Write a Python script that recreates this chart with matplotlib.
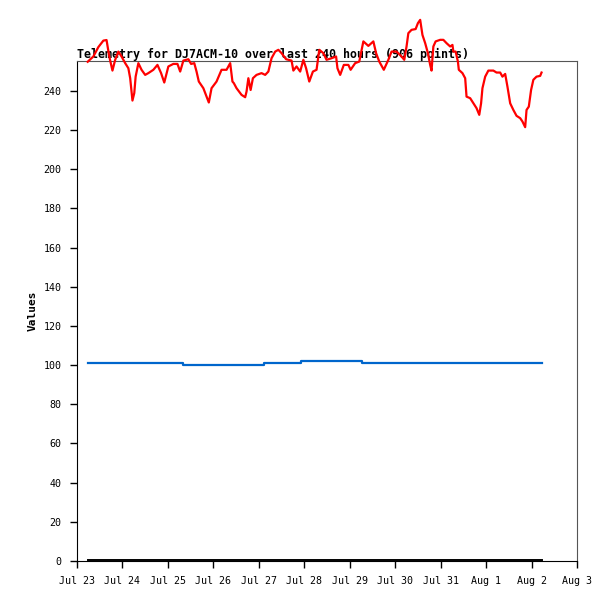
import matplotlib
matplotlib.use("Agg")
import matplotlib.pyplot as plt

# x values are days after Jul 23 00:00
tick_labels = ["Jul 23", "Jul 24", "Jul 25", "Jul 26", "Jul 27", "Jul 28",
               "Jul 29", "Jul 30", "Jul 31", "Aug 1", "Aug 2", "Aug 3"]

red_days = [0.235, 0.36, 0.47, 0.58, 0.65, 0.71, 0.78, 0.84, 0.91, 0.98,
            1.06, 1.13, 1.17, 1.22, 1.26, 1.29, 1.35, 1.42, 1.50, 1.57,
            1.68, 1.77, 1.85, 1.92, 2.01, 2.12, 2.21, 2.27, 2.34, 2.45,
            2.51, 2.58, 2.63, 2.68, 2.78, 2.85, 2.90, 2.96, 3.07, 3.18,
            3.29, 3.37, 3.42, 3.45, 3.51, 3.62, 3.70, 3.73, 3.77, 3.82,
            3.87, 3.95, 4.06, 4.14, 4.21, 4.28, 4.36, 4.43, 4.50, 4.60,
            4.72, 4.76, 4.83, 4.91, 4.98, 5.04, 5.11, 5.19, 5.27, 5.33,
            5.42, 5.49, 5.60, 5.70, 5.73, 5.79, 5.87, 5.97, 6.02, 6.12,
            6.21, 6.30, 6.41, 6.52, 6.58, 6.65, 6.75, 6.85, 6.92, 7.03,
            7.14, 7.20, 7.25, 7.29, 7.36, 7.45, 7.50, 7.55, 7.60, 7.66,
            7.72, 7.77, 7.80, 7.84, 7.89, 7.99, 8.06, 8.13, 8.21, 8.26,
            8.28, 8.33, 8.38, 8.40, 8.48, 8.54, 8.57, 8.65, 8.72, 8.79,
            8.85, 8.89, 8.92, 8.98, 9.05, 9.16, 9.23, 9.31, 9.36, 9.42,
            9.47, 9.53, 9.60, 9.67, 9.75, 9.80, 9.86, 9.89, 9.94, 9.99,
            10.04, 10.11, 10.19, 10.22]
red_vals = [254.9, 257.6, 262.4, 265.7, 266.0, 257.6, 250.4, 255.9, 260.1, 257.6,
            254.2, 251.6, 246.5, 235.1, 238.9, 247.3, 254.2, 250.8, 248.2, 249.1,
            250.8, 253.3, 249.1, 244.3, 252.5, 253.8, 253.8, 249.9, 255.5, 256.2,
            253.8, 254.2, 249.9, 244.8, 241.4, 237.1, 234.1, 241.4, 244.8, 250.8,
            250.8, 254.2, 244.8, 244.0, 241.4, 238.0, 236.8, 239.7, 246.5, 240.5,
            246.5, 248.2, 249.1, 248.2, 249.9, 256.7, 260.1, 261.0, 259.3, 256.2,
            255.5, 250.4, 252.5, 249.9, 255.9, 251.6, 244.8, 249.9, 250.8, 261.0,
            259.3, 255.9, 256.7, 257.6, 251.6, 248.2, 253.3, 253.3, 250.8, 254.2,
            255.0, 265.3, 263.0, 265.3, 259.3, 255.0, 250.8, 255.9, 260.1, 260.1,
            257.6, 255.9, 262.7, 269.5, 271.2, 271.6, 274.6, 276.3, 268.6, 264.4,
            259.3, 253.3, 250.4, 262.7, 265.3, 266.1, 266.1, 264.4, 262.7, 263.5,
            260.1, 260.1, 255.0, 250.8, 249.1, 246.5, 237.1, 236.3, 233.7, 231.2,
            227.8, 233.7, 241.4, 247.3, 250.4, 250.4, 249.4, 249.4, 247.3, 248.7,
            242.2, 233.7, 230.3, 227.3, 226.1, 224.4, 221.5, 230.3, 232.0, 240.5,
            245.7, 247.3, 247.7, 249.4]

blue_days = [0.235, 2.34, 4.12, 4.92, 6.27, 10.22]
blue_vals = [101.3, 100.3, 101.3, 102.2, 101.3, 101.3]

black_days = [0.235, 10.22]
black_vals = [0.3, 0.3]

fig = plt.figure(figsize=(6.15, 6.02), dpi=100)
ax = fig.add_axes([0.1252, 0.0681, 0.813, 0.8306])

ax.plot(black_days, black_vals, color="black", lw=1.4, zorder=2)
ax.step(blue_days, blue_vals, where="post", color="#0066cc", lw=1.6, zorder=3)
ax.plot(red_days, red_vals, color="#ff0000", lw=1.6, zorder=4, clip_on=False)

ax.set_xlim(0, 11)
ax.set_ylim(0, 255.3)
ax.set_xticks(range(len(tick_labels)))
ax.set_xticklabels(tick_labels)
ax.set_yticks(range(0, 241, 20))

mono = "DejaVu Sans Mono"
for lab in ax.get_xticklabels() + ax.get_yticklabels():
    lab.set_family(mono)
    lab.set_fontsize(7.2)
ax.tick_params(direction="out", length=5, width=1, pad=6)

for s in ["top", "right"]:
    ax.spines[s].set_color("#555555")
ax.spines["left"].set_color("black")
ax.spines["bottom"].set_color("black")

ax.set_ylabel("Values", family=mono, fontweight="bold", fontsize=8, labelpad=4)
ax.text(0, 1.006, "Telemetry for DJ7ACM-10 over last 240 hours (906 points)",
        transform=ax.transAxes, ha="left", va="baseline",
        family=mono, fontweight="bold", fontsize=8.4, zorder=1)

fig.savefig("out.png", dpi=100)
